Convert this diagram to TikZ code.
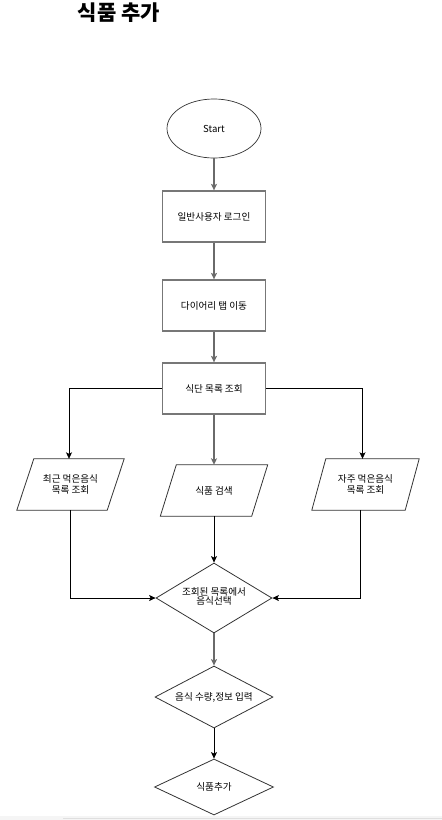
\documentclass[tikz,border=0pt]{standalone}
\usepackage{fontspec}
\setmainfont{Noto Sans CJK KR}
\usetikzlibrary{shapes.geometric,arrows.meta}
\definecolor{boxgray}{HTML}{777777}
\definecolor{lingray}{HTML}{6A6A6A}
\definecolor{dark}{HTML}{333333}
\tikzset{
  txt/.style={font=\fontsize{9.6}{12}\selectfont, text=black},
  titlestyle/.style={font=\fontsize{21}{24}\selectfont\bfseries, text=black, inner sep=0pt},
  startnode/.style={ellipse, draw=dark, line width=0.7pt, minimum width=94, minimum height=59, txt, inner sep=0pt},
  stepbox/.style={rectangle, draw=boxgray, line width=1.3pt, minimum width=103, minimum height=51, txt, inner sep=0pt},
  parabox/.style={rectangle, minimum height=51, txt, inner sep=0pt, align=center},
  parashape/.style={draw=dark, line width=0.8pt},
  decision/.style={diamond, draw=dark, line width=0.8pt, inner sep=0pt, txt},
  arr/.style={-{Stealth[length=6.5pt,width=6pt,inset=1.5pt]}, line width=0.8pt, draw=black},
  arrg/.style={-{Stealth[length=6.5pt,width=6pt,inset=1.5pt]}, line width=1.2pt, draw=lingray},
}
\begin{document}
\begin{tikzpicture}[x=1pt,y=-1pt]
\useasboundingbox (0,0) rectangle (442,820);
\fill[gray!8] (0,816) rectangle (442,820);
\draw[gray!25, line width=0.8pt] (63,818.5) -- (442,818.5);

\node[titlestyle] (title) at (119,13) {식품 추가};

\node[startnode] (start) at (214,128.5) {Start};
\node[stepbox] (b1) at (214,216.5) {일반사용자 로그인};
\node[stepbox] (b2) at (214,305.5) {다이어리 탭 이동};
\node[stepbox] (b3) at (214,388.5) {식단 목록 조회};

\node[parabox, minimum width=90] (L) at (70.5,484.5) {최근 먹은음식\\[-1pt]목록 조회};
\node[parabox, minimum width=91] (M) at (214,490.5) {식품 검색};
\node[parabox, minimum width=93] (R) at (365.5,484.5) {자주 먹은음식\\[-1pt]목록 조회};

\draw[parashape] ([xshift=8.5]L.north west) -- ([xshift=8.5]L.north east) -- ([xshift=-8.5]L.south east) -- ([xshift=-8.5]L.south west) -- cycle;
\draw[parashape] ([xshift=8]M.north west) -- ([xshift=8]M.north east) -- ([xshift=-8]M.south east) -- ([xshift=-8]M.south west) -- cycle;
\draw[parashape] ([xshift=7]R.north west) -- ([xshift=7]R.north east) -- ([xshift=-7]R.south east) -- ([xshift=-7]R.south west) -- cycle;

\node[decision, minimum width=116, minimum height=70] (d1) at (214,598)
  {\makebox[0pt][c]{\begin{tabular}{@{}c@{}}조회된 목록에서\\[-3pt]음식선택\end{tabular}}};
\node[decision, minimum width=118, minimum height=62] (d2) at (214,697)
  {\makebox[0pt][c]{음식 수량,정보 입력}};
\node[decision, minimum width=119, minimum height=56] (d3) at (214,787)
  {\makebox[0pt][c]{식품추가}};

\draw[arrg] (start) -- (b1);
\draw[arrg] (b1) -- (b2);
\draw[arrg] (b2) -- (b3);
\draw[arrg] (b3) -- (M.north);
\draw[arr] (b3.west) -| ([xshift=-1.5]L.north);
\draw[arr] (b3.east) -| ([xshift=-3]R.north);
\draw[arr] (L.south) |- (d1.west);
\draw[arr] ([xshift=-5.5]R.south) |- (d1.east);
\draw[arr] (M.south) -- (d1.north);
\draw[arrg] (d1) -- (d2);
\draw[arr] (d2) -- (d3);
\end{tikzpicture}
\end{document}
